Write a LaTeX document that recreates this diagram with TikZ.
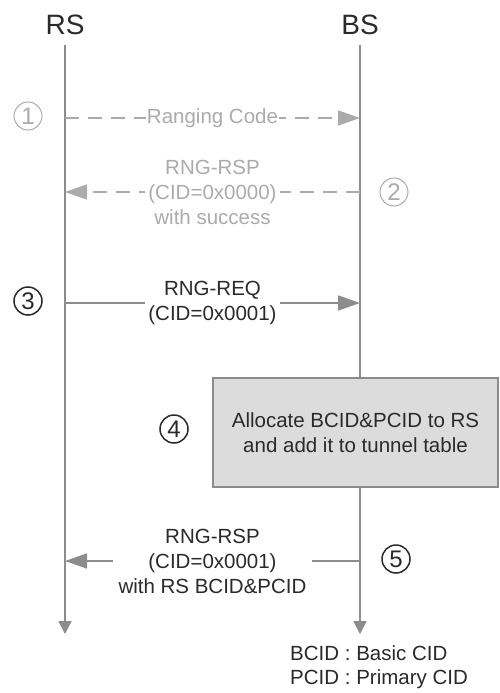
\documentclass[tikz,border=0pt]{standalone}
\usepackage{fontspec}
\setmainfont{Liberation Sans}
\usetikzlibrary{arrows.meta}
\definecolor{lc}{HTML}{8C8C8C}
\definecolor{lt}{HTML}{ABABAB}
\definecolor{bx}{HTML}{DCDCDC}
\definecolor{tx}{HTML}{2A2A2A}
\begin{document}
\begin{tikzpicture}[x=1pt,y=-1pt,
  life/.style={draw=lc, line width=1.6pt, -{Triangle[length=13pt,width=13pt]}},
  msg/.style={draw=lc, line width=1.6pt, -{Triangle[length=22pt,width=15pt]}},
  dsh/.style={dash pattern=on 14pt off 9pt},
  lbl/.style={font=\fontsize{20.5}{25}\selectfont, align=center, fill=white, inner sep=3pt, text=tx},
  hdr/.style={font=\fontsize{28}{28}\selectfont, text=tx},
  num/.style={circle, draw=tx, text=tx, line width=1.5pt, minimum size=28pt, inner sep=0pt, font=\fontsize{24}{24}\selectfont}]
\useasboundingbox[fill=white] (0,0) rectangle (499,693);
% headers
\node[hdr] (rs) at (65,25) {RS};
\node[hdr] (bs) at (360,25) {BS};
% lifelines
\coordinate (rsT) at (65,45);  \coordinate (rsB) at (65,634);
\coordinate (bsT) at (360,45); \coordinate (bsB) at (360,634);
\draw[life] (rsT) -- (rsB);
\draw[life] (bsT) -- (bsB);
% step 1
\coordinate (a1) at (65,118); \coordinate (b1) at (360,118);
\draw[msg,dsh,draw=lt] (a1) -- node[lbl,text=lt,inner sep=1pt] {Ranging Code} (b1);
\node[num,draw=lt,text=lt,line width=1pt] (n1) at (28,116) {1};
% step 2
\coordinate (a2) at (360,192); \coordinate (b2) at (65,192);
\draw[msg,dsh,draw=lt] (a2) -- node[lbl,text=lt] {RNG-RSP\\(CID=0x0000)\\with success} (b2);
\node[num,draw=lt,text=lt,line width=1pt] (n2) at (394,192) {2};
% step 3
\coordinate (a3) at (65,303); \coordinate (b3) at (360,303);
\draw[msg] (a3) -- node[lbl] {RNG-REQ\\(CID=0x0001)} (b3);
\node[num] (n3) at (28,301) {3};
% step 4 box
\node[draw=lc, fill=bx, line width=1.3pt, minimum width=285pt, minimum height=109pt,
      align=center, text=tx, font=\fontsize{20.5}{25}\selectfont] (box) at (355.5,432.5)
      {Allocate BCID\&PCID to RS\\and add it to tunnel table};
\node[num] (n4) at (174,429) {4};
% step 5
\coordinate (a5) at (360,561); \coordinate (b5) at (65,561);
\draw[msg] (a5) -- node[lbl, inner xsep=6pt] {RNG-RSP\\(CID=0x0001)\\with RS BCID\&PCID} (b5);
\node[num] (n5) at (396,559) {5};
% legend
\node[anchor=north west, align=left, text=tx, font=\fontsize{20.5}{24}\selectfont, inner sep=0pt] (leg) at (290,645)
  {BCID : Basic CID\\PCID : Primary CID};
\end{tikzpicture}
\end{document}
